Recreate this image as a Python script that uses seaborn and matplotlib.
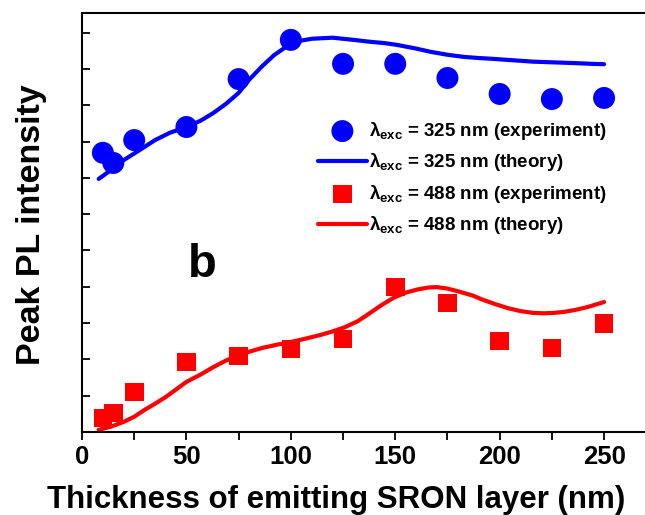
import numpy as np
import pandas as pd
import matplotlib
matplotlib.use("Agg")
import matplotlib.pyplot as plt
import seaborn as sns

# ---- data ----
thickness_exp = [10, 15, 25, 50, 75, 100, 125, 150, 175, 200, 225, 250]
exp_325 = [7.69, 7.41, 8.04, 8.40, 9.72, 10.80, 10.14, 10.14, 9.75, 9.31, 9.17, 9.20]
exp_488 = [0.39, 0.52, 1.10, 1.93, 2.09, 2.29, 2.56, 3.99, 3.55, 2.51, 2.31, 2.98]

thick_th_325 = [8, 14, 20, 28, 35, 42, 50, 57, 63, 69, 75, 80, 86, 92, 98, 104, 110, 120,
                130, 137.5, 145, 151, 160, 167, 175, 183, 190, 196, 206, 216, 226, 236, 244, 250]
theory_325 = [6.97, 7.22, 7.49, 7.78, 8.04, 8.24, 8.40, 8.58, 8.79, 9.04, 9.34, 9.70, 10.06,
              10.38, 10.62, 10.77, 10.83, 10.86, 10.80, 10.75, 10.71, 10.66, 10.56, 10.47,
              10.39, 10.33, 10.30, 10.28, 10.24, 10.20, 10.18, 10.16, 10.14, 10.13]

thick_th_488 = [8, 14, 20, 25, 30, 35, 40, 45, 50, 57, 63, 69, 75, 80, 86, 93, 100, 107, 114,
                120, 126, 132, 138, 143, 149, 155, 161, 166, 170, 175, 181, 187, 192, 198, 204,
                210, 216, 221, 226, 231, 236, 242, 246, 250]
theory_488 = [0.06, 0.15, 0.28, 0.42, 0.61, 0.78, 0.96, 1.17, 1.38, 1.59, 1.79, 1.97, 2.12,
              2.21, 2.31, 2.40, 2.48, 2.57, 2.67, 2.77, 2.89, 3.05, 3.28, 3.48, 3.69, 3.84,
              3.93, 3.98, 3.99, 3.95, 3.86, 3.76, 3.64, 3.52, 3.41, 3.33, 3.28, 3.27, 3.28,
              3.31, 3.36, 3.44, 3.51, 3.58]

labels = [r"$\lambda_{\rm exc}$ = 325 nm (experiment)",
          r"$\lambda_{\rm exc}$ = 325 nm (theory)",
          r"$\lambda_{\rm exc}$ = 488 nm (experiment)",
          r"$\lambda_{\rm exc}$ = 488 nm (theory)"]

sns.set_style("ticks")
plt.rcParams["font.family"] = ["Liberation Sans", "DejaVu Sans"]
plt.rcParams["font.weight"] = "bold"
plt.rcParams["mathtext.fontset"] = "custom"
plt.rcParams["mathtext.rm"] = "Liberation Sans:bold"
plt.rcParams["mathtext.it"] = "Liberation Sans:bold"
plt.rcParams["mathtext.bf"] = "Liberation Sans:bold"
for k in ["text.color", "axes.labelcolor", "xtick.color", "ytick.color",
          "xtick.labelcolor", "ytick.labelcolor", "axes.edgecolor"]:
    plt.rcParams[k] = "black"

fig = plt.figure(figsize=(6.45, 5.15), dpi=100)
ax = fig.add_axes([82 / 645, 83 / 515, 1 - 82 / 645, 419 / 515])

BLUE = "#0000FF"
RED = "#FF0000"

df_e325 = pd.DataFrame({"x": thickness_exp, "y": exp_325})
df_e488 = pd.DataFrame({"x": thickness_exp, "y": exp_488})
df_t325 = pd.DataFrame({"x": thick_th_325, "y": theory_325})
df_t488 = pd.DataFrame({"x": thick_th_488, "y": theory_488})

sns.lineplot(data=df_t325, x="x", y="y", ax=ax, color=BLUE, lw=3.0, label=labels[1], zorder=2)
sns.lineplot(data=df_t488, x="x", y="y", ax=ax, color=RED, lw=3.0, label=labels[3], zorder=2)
sns.scatterplot(data=df_e325, x="x", y="y", ax=ax, color=BLUE, marker="o", s=250,
                edgecolor="none", label=labels[0], zorder=3)
sns.scatterplot(data=df_e488, x="x", y="y", ax=ax, color=RED, marker="s", s=180,
                edgecolor="none", label=labels[2], zorder=3)

ax.set_xlim(0, 269.6)
ax.set_ylim(0, 11.54)
ax.set_xticks([0, 50, 100, 150, 200, 250])
ax.set_xticks([25, 75, 125, 175, 225], minor=True)
ax.set_yticks(np.arange(1, 12))
ax.set_yticklabels([])
ax.tick_params(axis="x", which="both", direction="out", length=6, width=1.3,
               labelsize=18.5, pad=3, colors="black")
ax.tick_params(axis="y", which="both", direction="in", length=6, width=1.3, colors="black")
for lab in ax.get_xticklabels():
    lab.set_fontweight("bold")
for s in ["left", "bottom", "top"]:
    ax.spines[s].set_linewidth(1.5)
    ax.spines[s].set_color("black")
ax.spines["right"].set_visible(False)

ax.set_xlabel("Thickness of emitting SRON layer (nm)", fontsize=22.5, fontweight="bold",
              color="black")
ax.xaxis.set_label_coords(0.451, -0.126)
ax.set_ylabel("Peak PL intensity", fontsize=24.5, fontweight="bold", color="black")
ax.yaxis.set_label_coords(-0.062, 0.494)

ax.text(57.5, 4.6, "b", fontsize=34, fontweight="bold", ha="center", va="center",
        color="black")

h, l = ax.get_legend_handles_labels()
hmap = dict(zip(l, h))
leg = ax.legend([hmap[x] for x in labels], labels, loc="upper left",
                bbox_to_anchor=(318 / 645, 1 - 120 / 515), bbox_transform=fig.transFigure,
                frameon=False, fontsize=13.5, handlelength=2.6, handletextpad=0.1,
                labelspacing=0.5, borderpad=0, borderaxespad=0, labelcolor="black")

fig.savefig("out.png", dpi=100)
